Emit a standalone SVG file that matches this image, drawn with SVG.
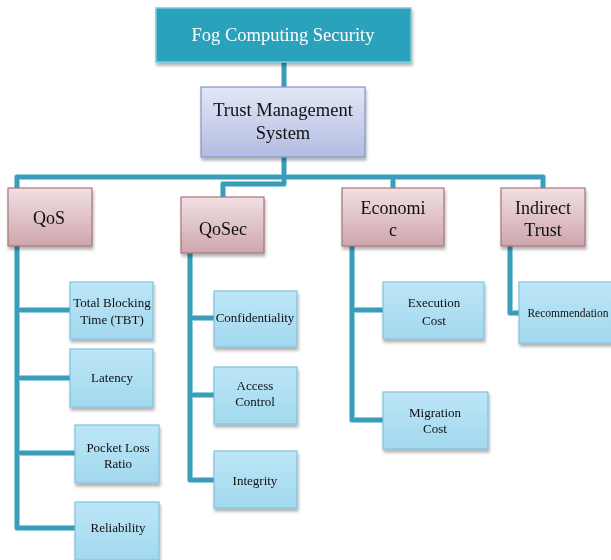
<svg xmlns="http://www.w3.org/2000/svg" width="611" height="560" viewBox="0 0 611 560">
<defs>
<linearGradient id="gTrust" x1="0" y1="0" x2="0" y2="1"><stop offset="0" stop-color="#e3e7f6"/><stop offset="1" stop-color="#b2bce0"/></linearGradient>
<linearGradient id="gPink" x1="0" y1="0" x2="0" y2="1"><stop offset="0" stop-color="#f1e0e3"/><stop offset="1" stop-color="#cea6ad"/></linearGradient>
<linearGradient id="gBlue" x1="0" y1="0" x2="0" y2="1"><stop offset="0" stop-color="#bde6f7"/><stop offset="1" stop-color="#a2d8ee"/></linearGradient>
<filter id="sh" x="-10%" y="-10%" width="125%" height="130%"><feDropShadow dx="1" dy="3" stdDeviation="1.5" flood-color="#000" flood-opacity="0.3"/></filter>
</defs>
<style>
text{font-family:"Liberation Serif","Times New Roman",serif;fill:#111;text-anchor:middle}
.top{fill:#2ba2bc;stroke:#7ccadb;stroke-width:1.5}
.trust{fill:url(#gTrust);stroke:#8593c8;stroke-width:1.2}
.pink{fill:url(#gPink);stroke:#a8737d;stroke-width:1.2}
.blue{fill:url(#gBlue);stroke:#7fc4de;stroke-width:1.2}
.big{font-size:18.5px}
.mid{font-size:18px}
.sm{font-size:13px}
.conn path{fill:none;stroke:#3a9cb9;stroke-width:4;stroke-linejoin:round}
.conn .hl{stroke:#8fcfe0;stroke-width:6}
</style>
<g class="conn">
<path class="hl" d="M284 62V88M284 157V177M17 188V177H543V188M284 177V184H223V197M393 177V188M17 246V528H75M17 310H70M17 378H70M17 453H75M190 253V480H214M190 318H214M190 395H214M352 246V420H383M352 310H383M510 246V313H519"/>
<path d="M284 62V88M284 157V177M17 188V177H543V188M284 177V184H223V197M393 177V188M17 246V528H75M17 310H70M17 378H70M17 453H75M190 253V480H214M190 318H214M190 395H214M352 246V420H383M352 310H383M510 246V313H519"/>
</g>
<g id="fog" filter="url(#sh)"><rect class="top" x="156" y="8" width="255" height="54"/><text class="big" x="283" y="41" style="fill:#fff">Fog Computing Security</text></g>
<g id="tms" filter="url(#sh)"><rect class="trust" x="201" y="87" width="164" height="70"/><text class="big" x="283" y="116">Trust Management</text><text class="big" x="283" y="139">System</text></g>
<g id="qos" filter="url(#sh)"><rect class="pink" x="8" y="188" width="84" height="58"/><text class="mid" x="49" y="224">QoS</text></g>
<g id="qosec" filter="url(#sh)"><rect class="pink" x="181" y="197" width="83" height="56"/><text class="mid" x="223" y="235">QoSec</text></g>
<g id="economic" filter="url(#sh)"><rect class="pink" x="342" y="188" width="102" height="58"/><text class="mid" x="393" y="214">Economi</text><text class="mid" x="393" y="236">c</text></g>
<g id="indirect" filter="url(#sh)"><rect class="pink" x="501" y="188" width="84" height="58"/><text class="mid" x="543" y="214">Indirect</text><text class="mid" x="543" y="236">Trust</text></g>
<g id="tbt" filter="url(#sh)"><rect class="blue" x="70" y="282" width="83" height="57"/><text class="sm" x="112" y="307">Total Blocking</text><text class="sm" x="112" y="324">Time (TBT)</text></g>
<g id="latency" filter="url(#sh)"><rect class="blue" x="70" y="349" width="83" height="58"/><text class="sm" x="112" y="382">Latency</text></g>
<g id="pocket" filter="url(#sh)"><rect class="blue" x="75" y="425" width="84" height="58"/><text class="sm" x="118" y="452">Pocket Loss</text><text class="sm" x="118" y="468">Ratio</text></g>
<g id="reliability" filter="url(#sh)"><rect class="blue" x="75" y="502" width="84" height="58"/><text class="sm" x="118" y="532">Reliability</text></g>
<g id="confidentiality" filter="url(#sh)"><rect class="blue" x="214" y="291" width="83" height="56"/><text class="sm" x="255" y="322">Confidentiality</text></g>
<g id="access" filter="url(#sh)"><rect class="blue" x="214" y="367" width="83" height="57"/><text class="sm" x="255" y="390">Access</text><text class="sm" x="255" y="406">Control</text></g>
<g id="integrity" filter="url(#sh)"><rect class="blue" x="214" y="451" width="83" height="57"/><text class="sm" x="255" y="485">Integrity</text></g>
<g id="execution" filter="url(#sh)"><rect class="blue" x="383" y="282" width="101" height="57"/><text class="sm" x="434" y="307">Execution</text><text class="sm" x="434" y="325">Cost</text></g>
<g id="migration" filter="url(#sh)"><rect class="blue" x="383" y="392" width="105" height="57"/><text class="sm" x="435" y="417">Migration</text><text class="sm" x="435" y="433">Cost</text></g>
<g id="recommendation" filter="url(#sh)"><rect class="blue" x="519" y="282" width="100" height="61"/><text class="sm" x="568" y="317" style="font-size:11.5px">Recommendation</text></g>
</svg>
